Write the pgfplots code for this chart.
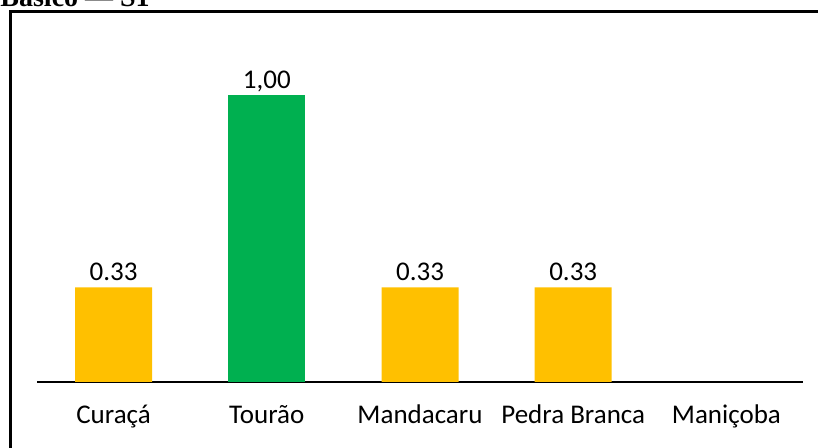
\documentclass[border=0pt]{standalone}
\usepackage{pgfplots}
\pgfplotsset{compat=1.18}
\usepackage{fontspec}
\setmainfont{Carlito}
\newfontfamily\titlefont{Liberation Serif}
\definecolor{barorange}{HTML}{FFC000}
\definecolor{bargreen}{HTML}{00B050}
\begin{document}
\begin{tikzpicture}
\begin{axis}[
  at={(0pt,0pt)}, anchor=south west,
  scale only axis,
  x=76.6pt, y=143.5pt,
  xmin=-0.5, xmax=4.5, ymin=0, ymax=1.25,
  axis y line=none,
  axis x line*=bottom,
  x axis line style={line width=1pt, black},
  xtick={0,1,2,3,4},
  xticklabels={Curaçá,Tourão,Mandacaru,Pedra Branca,Maniçoba},
  major tick length=0pt,
  ytick=\empty,
  xticklabel style={anchor=base, yshift=-21pt, font=\fontsize{13.5}{15}\selectfont, inner sep=0pt},
  clip=false,
]
\addplot[ybar, bar width=38.5pt, bar shift=0pt, fill=barorange, draw=none,
  nodes near coords, point meta=explicit symbolic,
  every node near coord/.append style={anchor=base, inner sep=0pt, yshift=3.5pt, font=\fontsize{13.5}{15}\selectfont, black}]
  coordinates {(0,0.33)[0.33] (2,0.33)[0.33] (3,0.33)[0.33]};
\addplot[ybar, bar width=38.5pt, bar shift=0pt, fill=bargreen, draw=none,
  nodes near coords, point meta=explicit symbolic,
  every node near coord/.append style={anchor=base, inner sep=0pt, yshift=3pt, font=\fontsize{13.5}{15}\selectfont, black}]
  coordinates {(1,1.00)[{1,00}]};
\end{axis}
\draw[line width=1.5pt] (-13.25pt,-40pt) -- (-13.25pt,185.25pt) -- (400pt,185.25pt);
\node[anchor=base west, inner sep=0pt, font=\titlefont\bfseries\fontsize{14}{16}\selectfont] at (-18.5pt,187.6pt) {Básico — S1};
\pgfresetboundingbox
\useasboundingbox (-18.5pt,-33pt) rectangle (390.5pt,191pt);
\end{tikzpicture}
\end{document}
